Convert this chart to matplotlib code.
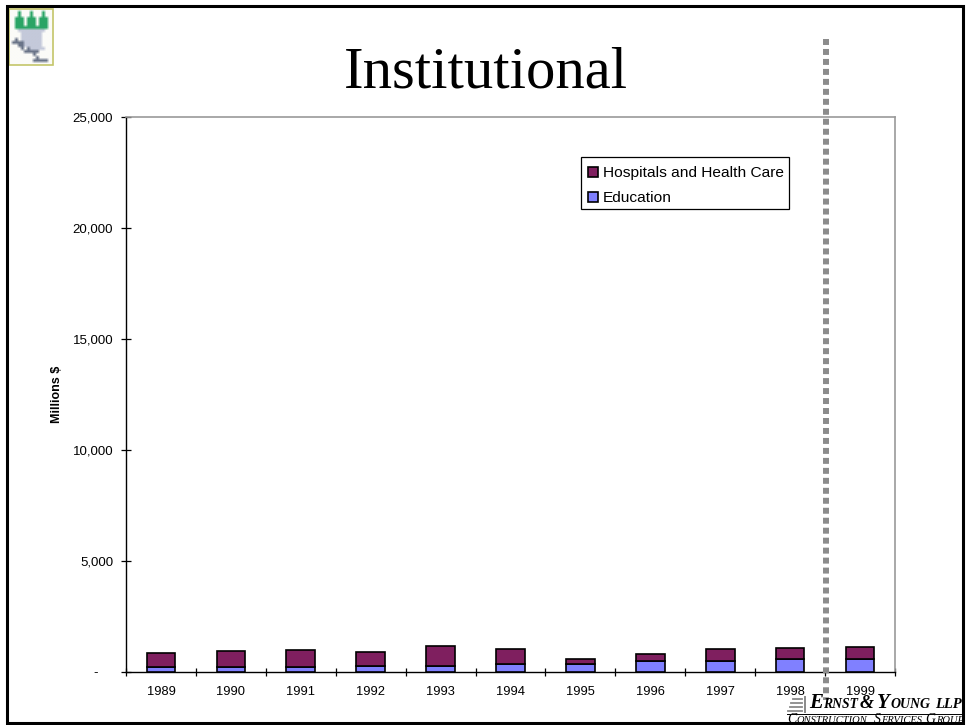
#!/usr/bin/env python3
"""Institutional construction spending slide, stacked bars by year."""

import matplotlib
matplotlib.use("Agg")
import matplotlib.pyplot as plt
from matplotlib.colors import to_rgb
from matplotlib.patches import Rectangle

years = ["1989", "1990", "1991", "1992", "1993", "1994", "1995", "1996", "1997", "1998", "1999"]
education = [225, 225, 225, 285, 285, 345, 360, 480, 510, 570, 600]
hospitals = [645, 735, 765, 615, 895, 695, 220, 345, 530, 525, 540]
y_ticks = [0, 5000, 10000, 15000, 20000, 25000]
y_labels = ["-\u00a0\u00a0\u00a0\u00a0", "5,000", "10,000", "15,000", "20,000", "25,000"]

# coarse bitmap of the corner logo, blurred when drawn
icon_rows = [
    "...............",
    "...g...g...g...",
    "...g...g...g...",
    "..ggg.ggg.ggg..",
    "..ggg.ggg.ggg..",
    "..ggg.ggg.ggg..",
    "..ggggggggggg..",
    "...sssssssss...",
    "....sssssss....",
    "....sssssss....",
    "..d.sssssss....",
    ".ddddssssss....",
    "...ddssssss....",
    "....d.dsssss...",
    ".....ddddd.....",
    "........d......",
    ".........d.....",
    "........ddddd..",
    "...............",
]
icon_colors = {".": "#fbfbf8", "g": "#2aa566", "s": "#c4c9da", "d": "#6a7488"}

W, H = 966, 725
SANS = "Liberation Sans"
SERIF = "Liberation Serif"

fig = plt.figure(figsize=(W / 100, H / 100), dpi=100)

# ---- chart -----------------------------------------------------------
ax = fig.add_axes([126 / W, 1 - 672 / H, (895 - 126) / W, (672 - 117) / H])
x = list(range(len(years)))
ax.bar(x, education, width=0.41, color="#8080ff", edgecolor="black", linewidth=1.2,
       label="Education", zorder=3)
ax.bar(x, hospitals, width=0.41, bottom=education, color="#7f1f5f", edgecolor="black",
       linewidth=1.2, label="Hospitals and Health Care", zorder=3)
ax.set_xlim(-0.5, len(years) - 0.5)
ax.set_ylim(0, 25000)

ax.set_yticks(y_ticks)
ax.set_yticklabels(y_labels, fontsize=9.5, family=SANS)
ax.tick_params(axis="y", length=6.5, width=0.9, direction="inout", pad=6)

ax.set_xticks(x)
ax.set_xticklabels(years, fontsize=9.3, family=SANS)
ax.tick_params(axis="x", which="major", length=0, pad=10)
ax.set_xticks([i - 0.5 for i in range(len(years) + 1)], minor=True)
ax.tick_params(axis="x", which="minor", length=6, width=0.9, direction="inout")

ax.set_ylabel("Millions $", fontsize=9, fontweight="bold", family=SANS, labelpad=6.5)

for side in ["top", "right"]:
    ax.spines[side].set_color("#9a9a9a")
    ax.spines[side].set_linewidth(1.2)
for side in ["left", "bottom"]:
    ax.spines[side].set_color("black")
    ax.spines[side].set_linewidth(1.0)

handles, labels = ax.get_legend_handles_labels()
leg = ax.legend(handles[::-1], labels[::-1], loc="upper left",
                bbox_to_anchor=((581 - 126) / (895 - 126), (672 - 159) / (672 - 117)),
                borderaxespad=0, frameon=False,
                prop={"family": SANS, "size": 11.15}, handlelength=0.62, handleheight=0.62,
                handletextpad=0.33, labelspacing=0.72, borderpad=0.45)
leg.set_zorder(5)

# ---- slide furniture, in pixel coordinates ---------------------------
deco = fig.add_axes([0, 0, 1, 1], facecolor="none")
deco.set_xlim(0, W)
deco.set_ylim(H, 0)
deco.axis("off")

deco.add_patch(Rectangle((581, 157), 208, 52, fill=False, edgecolor="black", linewidth=0.9, zorder=5))
deco.add_patch(Rectangle((7, 6), 956, 717, fill=False, edgecolor="black", linewidth=2.2, zorder=15))
deco.text(486, 73, "Institutional", family=SERIF, fontsize=42.2, ha="center", va="center")

# dotted divider
deco.plot([826, 826], [39, 700], color="#8c8c8c", linewidth=4.3, linestyle=(0, (1.0, 0.67)),
          dash_capstyle="butt", zorder=6)

# corner icon
icon = [[to_rgb(icon_colors[c]) for c in row] for row in icon_rows]
deco.imshow(icon, extent=(8.5, 53, 65, 8.5), interpolation="bilinear", aspect="auto", zorder=7)
deco.set_xlim(0, W)
deco.set_ylim(H, 0)
deco.add_patch(Rectangle((8.5, 8.5), 44.5, 56.5, fill=False, edgecolor="#c4c66a", linewidth=1.2, zorder=8))

# logo block, cut off by the slide border
clip_box = Rectangle((780, 690), 183, 33, transform=deco.transData)


def logo_text(x0, y0, parts, weight):
    """Lay out (text, size) pieces on a common baseline, left to right."""
    rend = fig.canvas.get_renderer()
    xpos = x0
    for txt, size in parts:
        t = deco.text(xpos, y0, txt, family=SERIF, fontsize=size, style="italic", fontweight=weight,
                      ha="left", va="baseline", zorder=12)
        t.set_clip_path(clip_box)
        xpos += t.get_window_extent(rend).width + 0.6


for i in range(4):
    deco.plot([788 + (3 - i) * 1.5, 802], [699 + i * 4, 699 + i * 4], color="#8a8a8a", linewidth=1.3, zorder=11)
deco.plot([805, 805], [697, 712], color="#8a8a8a", linewidth=1.4, zorder=11)

logo_text(809, 708, [("E", 15), ("RNST", 9.8)], "bold")
logo_text(860, 708, [("&", 13)], "bold")
logo_text(877, 708, [("Y", 15), ("OUNG", 10)], "bold")
logo_text(935, 708, [("LLP", 10.5)], "bold")
deco.plot([787, 963], [714, 714], color="black", linewidth=0.7, zorder=11)
logo_text(787, 723, [("C", 10), ("ONSTRUCTION", 7.6)], "normal")
logo_text(874, 723, [("S", 10), ("ERVICES", 7.6)], "normal")
logo_text(925, 723, [("G", 10), ("ROUP", 7.6)], "normal")

fig.savefig("out.png", dpi=100)
